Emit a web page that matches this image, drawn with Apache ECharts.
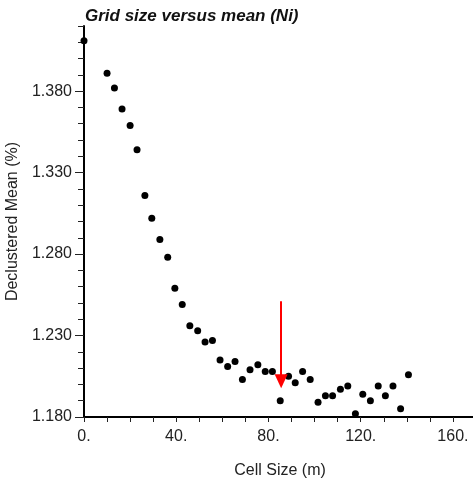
<!DOCTYPE html>
<html>
<head>
<meta charset="utf-8">
<title>Grid size versus mean (Ni)</title>
<script src="https://cdn.jsdelivr.net/npm/echarts@6/dist/echarts.min.js"></script>
<style>
    html, body { margin: 0; padding: 0; background: #fff; }
    #grid_chart { width: 473px; height: 483px; }
</style>
</head>
<body>
<div id="grid_chart"></div>
<script>
var cellSize = [0, 10, 13.2, 16.5, 20, 23, 26.4, 29.4, 32.9, 36.3, 39.4, 42.6, 45.9, 49.3,
    52.5, 55.7, 59, 62.3, 65.5, 68.7, 72, 75.4, 78.6, 81.7, 85.1, 88.7, 91.6, 94.8,
    98.1, 101.5, 104.7, 107.8, 111.2, 114.4, 117.7, 120.9, 124.2, 127.6, 130.7, 134, 137.3, 140.7];
var declusteredMean = [1.411, 1.391, 1.382, 1.369, 1.359, 1.344, 1.316, 1.302, 1.289, 1.278, 1.259, 1.249, 1.236, 1.233,
    1.226, 1.227, 1.215, 1.211, 1.214, 1.203, 1.209, 1.212, 1.208, 1.208, 1.190, 1.205, 1.201, 1.208,
    1.203, 1.189, 1.193, 1.193, 1.197, 1.199, 1.182, 1.194, 1.190, 1.199, 1.193, 1.199, 1.185, 1.206];
var yMajorTicks = [1.18, 1.23, 1.28, 1.33, 1.38];
var xLabelTicks = [0, 40, 80, 120, 160];
var arrowX = 85.5;
var arrowFrom = 1.251;
var arrowTo = 1.202;

function draw() {
    var chart = echarts.init(document.getElementById('grid_chart'));

    var points = cellSize.map(function (x, i) {
        return [x, declusteredMean[i]];
    });

    var font = '"Liberation Sans", Arial, Helvetica, sans-serif';

    var option = {
        backgroundColor: '#fff',
        animation: false,
        title: {
            text: 'Grid size versus mean (Ni)',
            left: 85,
            top: 8,
            padding: 0,
            textStyle: {
                fontFamily: font,
                fontSize: 17,
                fontWeight: 'bold',
                fontStyle: 'italic',
                color: '#111'
            }
        },
        grid: {
            left: 84,
            top: 26,
            width: 392,
            height: 391,
            containLabel: false,
            outerBoundsMode: 'none'
        },
        xAxis: {
            type: 'value',
            min: 0,
            max: 170,
            interval: 10,
            name: 'Cell Size (m)',
            nameLocation: 'middle',
            nameGap: 46,
            nameTextStyle: { fontFamily: font, fontSize: 16, color: '#222', verticalAlign: 'top' },
            axisLine: { lineStyle: { color: '#000', width: 2 } },
            axisTick: { length: 5, lineStyle: { color: '#222', width: 1 } },
            axisLabel: {
                margin: 12,
                fontFamily: font,
                fontSize: 16,
                color: '#222',
                formatter: function (v) {
                    return xLabelTicks.indexOf(v) >= 0 ? v + '.' : '';
                }
            },
            splitLine: { show: false }
        },
        yAxis: [
            {
                type: 'value',
                min: 1.18,
                max: 1.42,
                name: 'Declustered Mean (%)',
                nameLocation: 'middle',
                nameGap: 58,
                nameTextStyle: { fontFamily: font, fontSize: 16, color: '#222' },
                axisLine: { lineStyle: { color: '#000', width: 2 } },
                axisTick: { customValues: yMajorTicks, length: 9, lineStyle: { color: '#222', width: 1 } },
                axisLabel: {
                    customValues: yMajorTicks,
                    margin: 12,
                    fontFamily: font,
                    fontSize: 16,
                    color: '#222',
                    formatter: function (v) { return v.toFixed(3); }
                },
                splitLine: { show: false }
            },
            {
                type: 'value',
                position: 'left',
                min: 1.18,
                max: 1.42,
                interval: 0.01,
                axisLine: { show: false },
                axisTick: { length: 6, lineStyle: { color: '#222', width: 1 } },
                axisLabel: { show: false },
                splitLine: { show: false }
            }
        ],
        series: [
            {
                name: 'Declustered mean',
                type: 'scatter',
                data: points,
                symbol: 'circle',
                symbolSize: 7,
                itemStyle: { color: '#000', opacity: 1 },
                markLine: {
                    silent: true,
                    label: { show: false },
                    lineStyle: { color: '#ff0000', width: 2, type: 'solid', opacity: 1 },
                    symbol: ['none', 'triangle'],
                    symbolSize: [13, 14],
                    data: [
                        [
                            { coord: [arrowX, arrowFrom] },
                            { coord: [arrowX, arrowTo] }
                        ]
                    ]
                }
            }
        ]
    };

    chart.setOption(option);

    window.onresize = chart.resize;
}

draw();
</script>
</body>
</html>
